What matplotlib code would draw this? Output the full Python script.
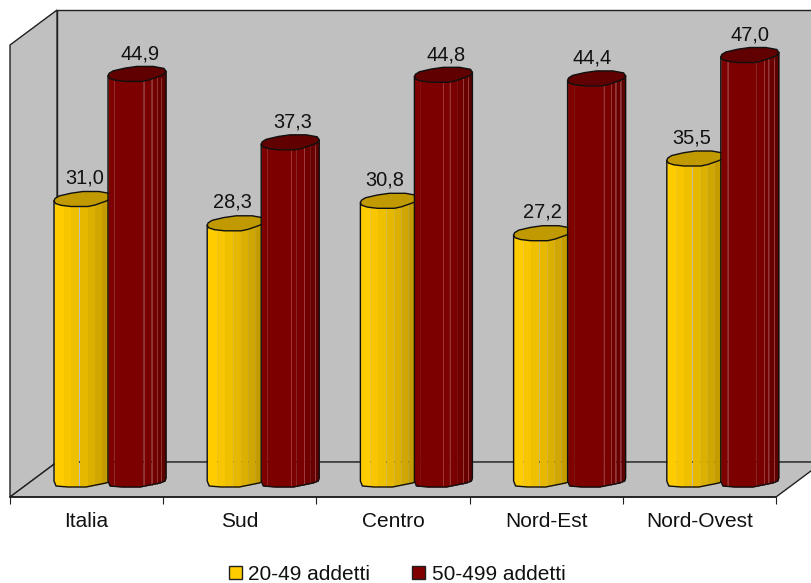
import numpy as np
import matplotlib
matplotlib.use("Agg")
import matplotlib.pyplot as plt
from matplotlib.patches import Patch, Polygon

plt.rcParams['font.family'] = ['Liberation Sans', 'DejaVu Sans']

categories = ["Italia", "Sud", "Centro", "Nord-Est", "Nord-Ovest"]
series_names = ["20-49 addetti", "50-499 addetti"]
values_small = [31.0, 28.3, 30.8, 27.2, 35.5]
values_large = [44.9, 37.3, 44.8, 44.4, 47.0]
value_labels_small = ["31,0", "28,3", "30,8", "27,2", "35,5"]
value_labels_large = ["44,9", "37,3", "44,8", "44,4", "47,0"]

# scale: pixels per category and per unit of value
PX_CAT, PX_VAL = 153.2, 9.0
W, H = 812, 583
LEFT, BASE, FRONT = 10, 478, 497
fig = plt.figure(figsize=(W / 100, H / 100), dpi=100)
ax = fig.add_axes([0, 0, 1, 1])
ax.set_xlim(-LEFT / PX_CAT, (W - LEFT) / PX_CAT)
ax.set_ylim((BASE - H) / PX_VAL, BASE / PX_VAL)
ax.patch.set_visible(False)


def X(px):
    return (np.asarray(px, dtype=float) - LEFT) / PX_CAT


def Y(py):
    return (BASE - np.asarray(py, dtype=float)) / PX_VAL


# 3D box
dx3, dy3 = 47, 35
gray = "#C0C0C0"
x0, x1 = LEFT, 776
top = 10
back_bottom = FRONT - dy3
wall = [(x0 + dx3, top), (x1 + dx3, top), (x1 + dx3, back_bottom), (x0 + dx3, back_bottom)]
side = [(x0, top + dy3), (x0 + dx3, top), (x0 + dx3, back_bottom), (x0, FRONT)]
floor = [(x0, FRONT), (x0 + dx3, back_bottom), (x1 + dx3, back_bottom), (x1, FRONT)]
for poly in (wall, side, floor):
    pts = np.array(poly, dtype=float)
    ax.add_patch(Polygon(np.c_[X(pts[:, 0]), Y(pts[:, 1])], closed=True, fc=gray,
                         ec="#202020", lw=1.0, zorder=1))

# cap / base outlines, pixel offsets from the bar centre
HALF = 29
cap_low_x = np.array([-29, -27.5, -22, -12, 5, 12, 22, 27, 29])
cap_low_y = np.array([2, 4.5, 6.3, 7.5, 7.5, 6, 2.5, 0.5, -2.5])
cap_up_x = np.array([29, 27, 16, 0, -12, -24, -28, -29])
cap_up_y = np.array([-2.5, -5.5, -7.5, -7.5, -5.8, -3, -0.5, 2])
base_x = np.array([-29, -27, -15, 3, 23, 28, 29])
base_y = np.array([3, 8, 9, 9, 5, 3, 0])

yellow_stops = [0, .16, .30, .44, .58, .70, .82, 1]
yellow_cols = ["#FFCC00", "#F7C600", "#EFC000", "#E6B800", "#DCB000", "#D0A600", "#C49C00"]
red_stops = [0, .1, .6, .74, .84, .92, 1]
red_cols = ["#800000", "#7C0000", "#780000", "#700000", "#680000", "#5C0000"]
red_lines = [[.62, .76, .84, .92], [.52, .74, .92], [.49, .61, .84, .93],
             [.62, .75, .82, .91], [.12, .74, .82, .92]]
nudge_small = [2, -4, -4.6, 0, -4]
nudge_large = [3.5, 2.5, 2.6, -4.6, 0]

CAP_YELLOW, CAP_RED = "#C09A00", "#600000"


def bar(cx, value, stops, cols, cap, z, lights=()):
    ytop = BASE - value * PX_VAL
    xs = np.linspace(-HALF, HALF, 117)
    yb = np.interp(xs, base_x, base_y)
    yt = ytop + np.interp(xs, cap_low_x, cap_low_y) - 1
    for a, b, c in zip(stops[:-1], stops[1:], cols):
        m = (xs >= -HALF + a * 2 * HALF - .25) & (xs <= -HALF + b * 2 * HALF + .25)
        ax.fill_between(X(cx + xs[m]), Y(BASE + yb[m]), Y(yt[m]), color=c, lw=0, zorder=z)
    for f in lights:
        p = -HALF + f * 2 * HALF
        ax.plot(X([cx + p, cx + p]), Y([ytop + 4, BASE + np.interp(p, base_x, base_y)]),
                color="#A04040", lw=0.6, zorder=z + .1)
    ox = np.r_[cx - HALF, cx + xs, cx + HALF]
    oy = np.r_[ytop + cap_low_y[0], BASE + yb, ytop + cap_low_y[-1]]
    ax.plot(X(ox), Y(oy), color="#101010", lw=1.0, zorder=z + .2, solid_joinstyle="round")
    cap_x = np.r_[cap_low_x, cap_up_x[1:-1]] + cx
    cap_y = np.r_[cap_low_y, cap_up_y[1:-1]] + ytop
    ax.add_patch(Polygon(np.c_[X(cap_x), Y(cap_y)], closed=True, fc=cap, ec="#101010",
                         lw=1.0, zorder=z + .3, joinstyle="round"))


for i in range(len(categories)):
    origin = LEFT + i * PX_CAT
    cy, cr = origin + 73, origin + 127
    bar(cy, values_small[i], yellow_stops, yellow_cols, CAP_YELLOW, 3 + i)
    bar(cr, values_large[i], red_stops, red_cols, CAP_RED, 3.5 + i, red_lines[i])
    ax.text(X(cy + nudge_small[i]), values_small[i] + 21 / PX_VAL, value_labels_small[i],
            ha="center", va="center", fontsize=14.4, color="#111111", zorder=20)
    ax.text(X(cr + nudge_large[i]), values_large[i] + 20 / PX_VAL, value_labels_large[i],
            ha="center", va="center", fontsize=14.4, color="#111111", zorder=20)

# axis
for name in ("top", "left", "right"):
    ax.spines[name].set_visible(False)
ax.spines["bottom"].set_position(("data", Y(FRONT)))
ax.spines["bottom"].set_bounds(0, len(categories))
ax.spines["bottom"].set_color("#202020")
ax.spines["bottom"].set_linewidth(1.2)
ax.spines["bottom"].set_zorder(30)
ax.set_yticks([])
ax.set_xticks(np.arange(len(categories) + 1))
ax.set_xticklabels([])
ax.set_xticks(np.arange(len(categories)) + .5, minor=True)
ax.set_xticklabels(categories, minor=True, fontsize=15, color="#111111")
ax.tick_params(axis="x", which="major", length=5, width=0.8, color="#202020")
ax.tick_params(axis="x", which="minor", length=0, pad=11)

handles = [Patch(fc=yellow_cols[0], ec="#202020", lw=1), Patch(fc="#800000", ec="#202020", lw=1)]
fig.legend(handles, series_names, loc="center", bbox_to_anchor=(397 / W, 1 - 574.5 / H),
           ncol=2, frameon=False, fontsize=15, handlelength=0.62, handleheight=0.62,
           handletextpad=0.32, columnspacing=2.0, borderpad=0, borderaxespad=0,
           labelcolor="#111111")

fig.savefig("out.png", dpi=100)
